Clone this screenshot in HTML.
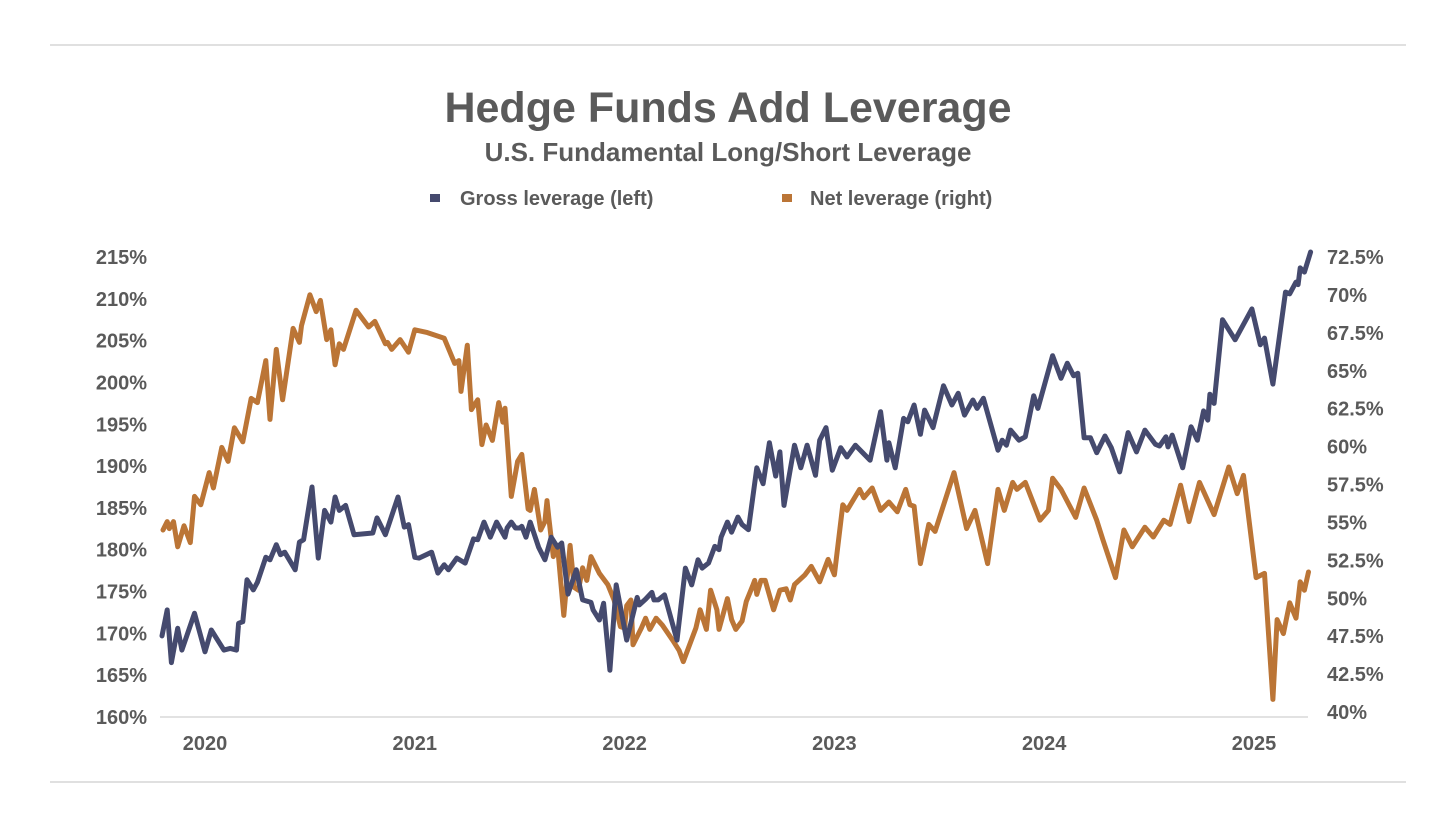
<!DOCTYPE html>
<html><head><meta charset="utf-8"><style>
body{margin:0;background:#fff;font-family:"Liberation Sans",sans-serif}
svg text{font-family:"Liberation Sans",sans-serif;font-weight:bold;fill:#5a5a5a}
</style></head><body>
<svg id="chart" width="1456" height="819" viewBox="0 0 1456 819" xmlns="http://www.w3.org/2000/svg">
<line x1="50" y1="45" x2="1406" y2="45" stroke="#d6d6d6" stroke-width="1.5"/>
<line x1="50" y1="782" x2="1406" y2="782" stroke="#d6d6d6" stroke-width="1.5"/>
<text x="728" y="122" text-anchor="middle" font-size="43" fill="#606060">Hedge Funds Add Leverage</text>
<text x="728" y="161" text-anchor="middle" font-size="26" fill="#606060">U.S. Fundamental Long/Short Leverage</text>
<g>
<rect x="430" y="194" width="10" height="8" fill="#454a6e"/>
<text x="460" y="205" font-size="20">Gross leverage (left)</text>
<rect x="782" y="194" width="10" height="8" fill="#bb7536"/>
<text x="810" y="205" font-size="20">Net leverage (right)</text>
</g>
<line x1="160" y1="717" x2="1308" y2="717" stroke="#d9d9d9" stroke-width="1.5"/>
<g id="yl"></g><g id="yr"></g><g id="xl"></g><g id="series"></g>
</svg>
<script>
const grossDates=[2019.795,2019.82,2019.84,2019.87,2019.89,2019.95,2020.00,2020.03,2020.09,2020.12,2020.15,2020.16,2020.18,2020.20,2020.23,2020.25,2020.29,2020.31,2020.34,2020.36,2020.38,2020.43,2020.45,2020.47,2020.51,2020.54,2020.57,2020.60,2020.62,2020.64,2020.67,2020.71,2020.80,2020.82,2020.86,2020.92,2020.95,2020.97,2021.00,2021.02,2021.08,2021.11,2021.14,2021.16,2021.20,2021.24,2021.28,2021.30,2021.33,2021.36,2021.39,2021.43,2021.44,2021.46,2021.48,2021.50,2021.51,2021.53,2021.55,2021.59,2021.62,2021.65,2021.68,2021.70,2021.73,2021.77,2021.80,2021.84,2021.85,2021.88,2021.90,2021.93,2021.96,2022.01,2022.06,2022.07,2022.10,2022.13,2022.14,2022.16,2022.19,2022.25,2022.29,2022.32,2022.35,2022.37,2022.40,2022.43,2022.45,2022.46,2022.49,2022.51,2022.54,2022.56,2022.59,2022.63,2022.66,2022.69,2022.72,2022.74,2022.76,2022.81,2022.84,2022.87,2022.91,2022.93,2022.96,2022.99,2023.03,2023.06,2023.10,2023.17,2023.22,2023.25,2023.26,2023.29,2023.33,2023.35,2023.38,2023.41,2023.43,2023.47,2023.52,2023.56,2023.59,2023.62,2023.66,2023.68,2023.71,2023.78,2023.80,2023.82,2023.84,2023.88,2023.91,2023.95,2023.97,2024.04,2024.08,2024.11,2024.14,2024.16,2024.19,2024.22,2024.25,2024.29,2024.32,2024.36,2024.40,2024.44,2024.48,2024.53,2024.55,2024.58,2024.59,2024.61,2024.66,2024.70,2024.73,2024.76,2024.78,2024.79,2024.81,2024.85,2024.91,2024.99,2025.03,2025.05,2025.09,2025.15,2025.17,2025.20,2025.21,2025.22,2025.24,2025.27];
const grossValues=[169.7,172.8,166.5,170.6,168.0,172.4,167.8,170.4,168.0,168.2,168.0,171.2,171.4,176.4,175.2,176.1,179.1,178.8,180.6,179.4,179.7,177.6,180.9,181.2,187.5,179.0,184.7,183.3,186.3,184.7,185.3,181.8,182.0,183.8,181.8,186.3,182.7,183.0,179.1,179.0,179.7,177.2,178.2,177.6,179.0,178.4,181.3,181.2,183.3,181.5,183.3,181.5,182.6,183.3,182.6,182.6,182.8,181.5,183.3,180.3,178.8,181.5,180.3,180.8,174.7,177.6,174.0,173.7,172.8,171.6,173.6,165.6,175.8,169.2,174.3,173.4,174.1,174.9,174.0,174.0,174.6,169.2,177.8,175.8,178.8,177.8,178.4,180.4,180.0,181.5,183.3,182.1,183.9,183.0,182.4,189.8,187.9,192.8,188.8,191.7,185.3,192.5,189.8,192.5,188.9,193.1,194.6,189.5,192.2,191.1,192.5,190.7,196.5,190.7,192.8,189.8,195.7,195.3,197.3,193.8,196.7,194.6,199.6,197.3,198.7,196.1,197.9,196.9,198.1,191.9,193.1,192.5,194.3,193.1,193.5,198.4,196.9,203.2,200.5,202.3,200.8,201.1,193.4,193.4,191.6,193.6,192.2,189.3,194.0,191.7,194.3,192.6,192.4,193.5,192.3,193.7,189.8,194.7,193.1,196.6,195.5,198.6,197.5,207.5,205.1,208.8,204.5,205.3,199.8,210.8,210.6,212.0,211.7,213.7,213.2,215.6];
const netDates=[2019.80,2019.82,2019.83,2019.85,2019.87,2019.90,2019.93,2019.95,2019.98,2020.02,2020.04,2020.08,2020.11,2020.14,2020.18,2020.22,2020.25,2020.29,2020.31,2020.34,2020.37,2020.42,2020.45,2020.46,2020.50,2020.53,2020.55,2020.58,2020.60,2020.62,2020.64,2020.66,2020.72,2020.78,2020.81,2020.86,2020.87,2020.89,2020.93,2020.97,2021.00,2021.06,2021.14,2021.19,2021.21,2021.22,2021.25,2021.27,2021.30,2021.32,2021.34,2021.37,2021.40,2021.42,2021.43,2021.46,2021.49,2021.51,2021.54,2021.55,2021.57,2021.60,2021.62,2021.63,2021.64,2021.66,2021.68,2021.71,2021.74,2021.76,2021.78,2021.80,2021.82,2021.84,2021.88,2021.92,2021.95,2021.98,2022.00,2022.01,2022.03,2022.04,2022.08,2022.10,2022.12,2022.15,2022.18,2022.23,2022.26,2022.28,2022.34,2022.36,2022.39,2022.41,2022.44,2022.45,2022.49,2022.51,2022.53,2022.56,2022.58,2022.61,2022.62,2022.63,2022.65,2022.67,2022.71,2022.74,2022.77,2022.79,2022.81,2022.86,2022.89,2022.93,2022.97,2023.00,2023.04,2023.06,2023.12,2023.14,2023.18,2023.22,2023.26,2023.30,2023.34,2023.36,2023.38,2023.41,2023.45,2023.48,2023.57,2023.63,2023.67,2023.73,2023.78,2023.81,2023.85,2023.87,2023.91,2023.98,2024.02,2024.04,2024.08,2024.15,2024.19,2024.25,2024.28,2024.34,2024.38,2024.42,2024.48,2024.52,2024.57,2024.60,2024.65,2024.69,2024.74,2024.81,2024.88,2024.92,2024.95,2025.01,2025.05,2025.09,2025.11,2025.14,2025.17,2025.20,2025.22,2025.24,2025.26];
const netValues=[53.0,53.6,53.1,53.6,51.8,53.3,52.1,55.4,54.8,57.1,56.0,58.9,57.9,60.3,59.3,62.4,62.1,65.1,60.9,65.9,62.3,67.4,66.4,67.6,69.8,68.6,69.4,66.6,67.3,64.8,66.3,65.9,68.7,67.5,67.9,66.3,66.4,65.9,66.6,65.7,67.3,67.1,66.7,64.9,65.1,62.9,66.2,61.6,62.3,59.1,60.5,59.4,62.1,60.7,61.7,55.4,57.9,58.4,54.5,54.4,55.9,53.0,53.6,55.1,53.7,51.1,51.9,46.9,51.9,48.9,48.7,50.3,49.4,51.1,49.9,49.1,48.0,46.1,46.0,47.6,48.0,44.8,46.0,46.7,45.9,46.7,46.2,45.1,44.4,43.6,46.0,47.3,45.9,48.7,47.3,45.9,48.1,46.6,45.9,46.5,47.9,49.0,49.4,48.4,49.4,49.4,47.3,48.7,48.8,48.0,49.1,49.8,50.4,49.3,50.9,49.8,54.8,54.4,55.9,55.3,56.0,54.4,55.0,54.3,55.9,54.8,54.7,50.6,53.4,52.9,57.1,53.1,54.4,50.6,55.9,54.4,56.4,55.9,56.4,53.7,54.4,56.7,55.9,53.9,56.0,53.7,52.3,49.6,53.0,51.8,53.2,52.5,53.7,53.4,56.2,53.6,56.4,54.1,57.5,55.6,56.9,49.6,49.9,40.9,46.6,45.6,47.8,46.7,49.3,48.7,50.0];
const leftTicks=[160,165,170,175,180,185,190,195,200,205,210,215];
const rightTickLabels=["40%","42.5%","47.5%","50%","52.5%","55%","57.5%","60%","62.5%","65%","67.5%","70%","72.5%"];
const yearTicks=[2020,2021,2022,2023,2024,2025];

const NS="http://www.w3.org/2000/svg";
const xs=d=>205+(d-2020)*209.8;
const yL=v=>717-(v-160)*(460/55);
const yR=v=>712-(v-40)*(455/32.5);
function mk(tag,attrs,parent){const e=document.createElementNS(NS,tag);for(const k in attrs)e.setAttribute(k,attrs[k]);parent.appendChild(e);return e;}
const yl=document.getElementById('yl'),yr=document.getElementById('yr'),xl=document.getElementById('xl'),sg=document.getElementById('series');
leftTicks.forEach(v=>{const t=mk('text',{x:147,y:yL(v)+7,'text-anchor':'end','font-size':20},yl);t.textContent=v+'%';

});
rightTickLabels.forEach((s,i)=>{const y=712-i*(455/(rightTickLabels.length-1));const t=mk('text',{x:1327,y:y+7,'font-size':20},yr);t.textContent=s;

});
yearTicks.forEach(yv=>{const t=mk('text',{x:xs(yv),y:750,'text-anchor':'middle','font-size':20},xl);t.textContent=yv;

});
function line(dates,vals,ys,color,name){const d=dates.map((dt,i)=>(i?'L':'M')+xs(dt).toFixed(1)+','+ys(vals[i]).toFixed(1)).join('');
const p=mk('path',{d:d,fill:'none',stroke:color,'stroke-width':5,'stroke-linejoin':'round','stroke-linecap':'round'},sg);

}
line(netDates,netValues,yR,'#bb7536','net-leverage-line');
line(grossDates,grossValues,yL,'#454a6e','gross-leverage-line');
</script>
</body></html>
